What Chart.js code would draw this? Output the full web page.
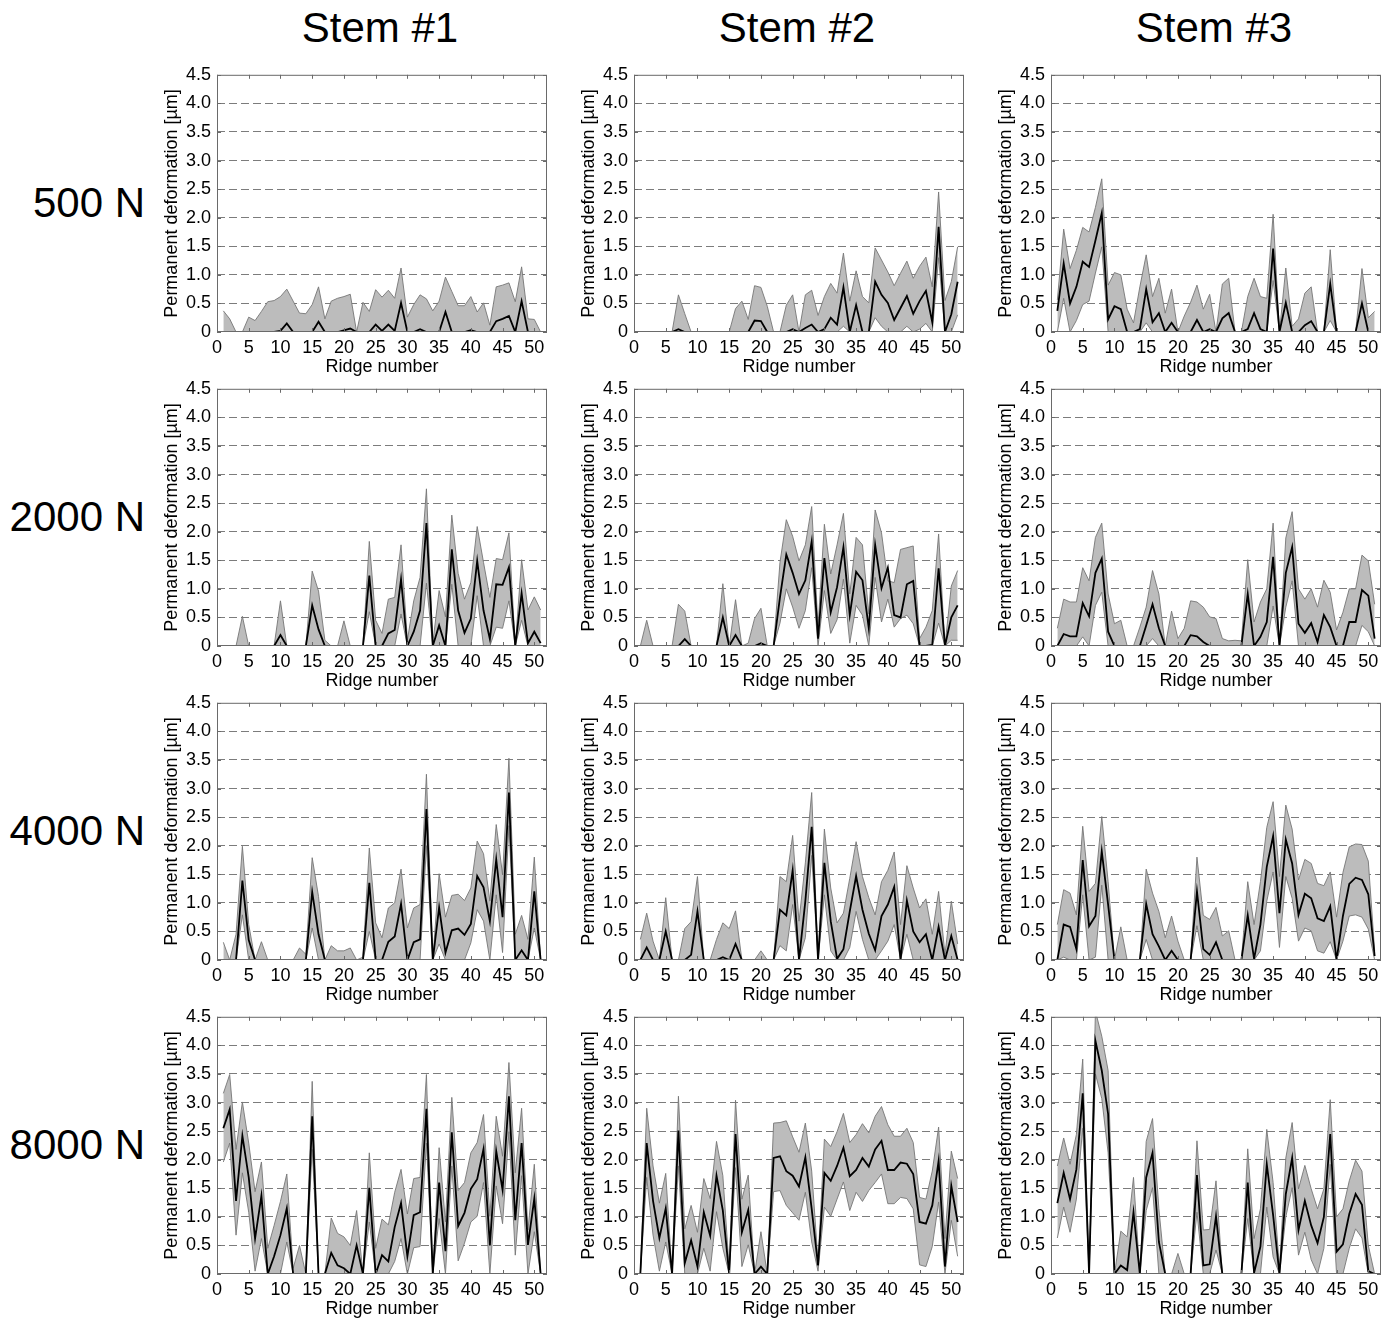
<!DOCTYPE html>
<html><head><meta charset="utf-8">
<script src="https://cdn.jsdelivr.net/npm/chart.js@4.4.1/dist/chart.umd.min.js"></script>
<style>
html,body{margin:0;padding:0;background:#fff;}
#wrap{position:relative;width:1391px;height:1318px;overflow:hidden;font-family:'Liberation Sans',Arial,sans-serif;}
.lbl{position:absolute;font-size:42px;color:#000;white-space:nowrap;line-height:50px;height:50px;}
canvas{position:absolute;}
</style></head><body><div id="wrap"></div>
<script>
// ---------- data ----------
const ridges = [1,2,3,4,5,6,7,8,9,10,11,12,13,14,15,16,17,18,19,20,21,22,23,24,25,26,27,28,29,30,31,32,33,34,35,36,37,38,39,40,41,42,43,44,45,46,47,48,49,50,51];
const xTicks = [0,5,10,15,20,25,30,35,40,45,50];
const yTicks = [0,0.5,1,1.5,2,2.5,3,3.5,4,4.5];
const stems = ['Stem #1','Stem #2','Stem #3'];
const loads = ['500 N','2000 N','4000 N','8000 N'];

// 500 N
const mean500_1  = [0,0,0,0,0,0,0,0,0,0.02, 0.15,0,0,0,0,0.18,0,0,0,0.03, 0.06,0,0,0,0.13,0.02,0.13,0.02,0.51,0, 0,0.05,0,0,0,0.35,0,0,0,0.03, 0,0,0,0.19,0.23,0.28,0,0.54,0,0,0];
const upper500_1 = [0.37,0.23,0,0,0.26,0.20,0.36,0.53,0.55,0.62, 0.75,0.54,0.33,0.32,0.48,0.79,0.23,0.54,0.59,0.62, 0.66,0,0.52,0.36,0.74,0.61,0.73,0.59,1.12,0.26, 0.48,0.65,0.58,0.37,0.54,0.96,0.71,0.46,0.46,0.62, 0.35,0.51,0.12,0.79,0.82,0.86,0.53,1.14,0.23,0.22,0];
const lower500_1 = [0,0,0,0,0,0,0,0,0,0, 0,0,0,0,0,0,0,0,0,0, 0,0,0,0,0,0,0,0,0,0, 0,0,0,0,0,0,0,0,0,0, 0,0,0,0,0,0,0,0,0,0,0];

const mean500_2  = [0,0,0,0,0,0,0.05,0,0,0, 0,0,0,0,0,0,0,0,0.20,0.19, 0,0,0,0,0.05,0,0.07,0.13,0,0.05, 0.25,0.13,0.78,0,0.47,0,0,0.88,0.65,0.51, 0.21,0.42,0.63,0.32,0.54,0.72,0.17,1.84,0,0.31,0.88];
const upper500_2 = [0,0,0,0,0,0,0.65,0.32,0,0, 0,0,0,0,0,0.41,0.54,0.22,0.81,0.78, 0.45,0,0,0.47,0.65,0,0.65,0.73,0.29,0.62, 0.85,0.68,1.38,0.54,1.07,0.62,0.51,1.47,1.26,1.05, 0.81,1.03,1.24,0.94,1.15,1.31,0.79,2.45,0.55,0.88,1.49];
const lower500_2 = [0,0,0,0,0,0,0,0,0,0, 0,0,0,0,0,0,0,0,0,0, 0,0,0,0,0,0,0,0,0,0, 0,0,0.1,0,0,0,0,0.25,0.1,0, 0,0,0.1,0,0.05,0.15,0,1.3,0,0,0.3];

const mean500_3  = [0.37,1.20,0.50,0.79,1.23,1.14,1.60,2.08,0.22,0.45, 0.40,0,0,0.05,0.75,0.17,0.33,0,0.16,0, 0,0,0.21,0,0.05,0,0.24,0.33,0,0, 0.05,0.33,0.05,0,1.46,0,0.51,0,0,0.12, 0.19,0,0,0.84,0,0,0,0,0.50,0,0];
const upper500_3 = [0.56,1.80,1.11,1.43,1.83,1.75,2.18,2.68,0.82,1.04, 1.00,0.40,0.16,0.79,1.35,0.62,0.94,0.33,0.75,0, 0.28,0.52,0.82,0.40,0.66,0,0.84,0.94,0,0, 0.62,0.94,0.62,0.59,2.06,0,1.12,0.10,0.23,0.68, 0.79,0,0,1.44,0,0,0,0,1.11,0.25,0.36];
const lower500_3 = [0,0.59,0,0.2,0.48,0.54,1.03,1.49,0,0, 0,0,0,0,0.16,0,0,0,0,0, 0,0,0,0,0,0,0,0,0,0, 0,0,0,0,0.9,0,0,0,0,0, 0,0,0,0.2,0,0,0,0,0,0,0];

// 2000 N
const mean2000_1  = [0,0,0,0,0,0,0,0,0,0.19, 0,0,0,0,0.71,0.29,0,0,0,0, 0,0,0,1.23,0,0,0.22,0.28,1.17,0, 0.25,0.62,2.15,0,0.36,0,1.69,0.62,0.23,0.48, 1.49,0.62,0.12,1.08,1.07,1.38,0,0.92,0.05,0.25,0.05];
const upper2000_1 = [0,0,0,0.52,0,0,0,0,0,0.79, 0,0,0,0,1.31,0.96,0.10,0,0,0.44, 0,0,0,1.83,0.45,0.22,0.82,0.85,1.77,0.1, 0.79,1.20,2.75,0.05,0.97,0.51,2.29,1.27,0.82,1.11, 2.09,1.46,0.85,1.53,1.51,1.98,0,1.51,0.63,0.86,0.63];
const lower2000_1 = [0,0,0,0,0,0,0,0,0,0, 0,0,0,0,0,0,0,0,0,0, 0,0,0,0.6,0,0,0,0,0.56,0, 0,0,1.1,0,0,0,1.08,0,0,0, 0.88,0,0,0.33,0.31,0.79,0,0.45,0,0,0];

const mean2000_2  = [0,0,0,0,0,0,0,0.12,0,0, 0,0,0,0.50,0,0.19,0,0,0,0.05, 0,0,0.85,1.60,1.28,0.91,1.15,1.83,0.13,1.54, 0.59,1.03,1.73,0.54,1.30,1.15,0.31,1.77,1.01,1.37, 0.54,0.50,1.08,1.14,0,0,0.02,1.36,0,0.50,0.71];
const upper2000_2 = [0,0.45,0,0,0,0,0.73,0.61,0,0, 0,0,0,1.09,0,0.81,0,0.05,0.48,0.66, 0,0,1.46,2.21,1.92,1.49,1.77,2.44,0.33,2.13, 1.26,1.77,2.32,0.91,1.90,1.77,0.56,2.38,1.98,1.14, 1.11,1.69,1.72,1.75,0.13,0.33,0.62,1.96,0,1.05,1.32];
const lower2000_2 = [0,0,0,0,0,0,0,0,0,0, 0,0,0,0,0,0,0,0,0,0, 0,0,0.4,1.00,0.68,0.31,0.62,1.37,0,0.97, 0.22,0.46,1.17,0.05,0.71,0.54,0,1.20,0.42,0.82, 0.33,0.48,0.54,0.39,0,0,0,0.4,0,0.1,0.1];

const mean2000_3  = [0,0.21,0.17,0.17,0.75,0.52,1.28,1.53,0.25,0, 0,0,0,0,0.36,0.73,0.31,0,0,0, 0,0.19,0.17,0.07,0,0,0,0,0,0, 0.91,0,0.16,0.42,1.56,0,1.28,1.73,0.39,0.23, 0.40,0.07,0.54,0.33,0,0,0.42,0.42,0.98,0.88,0.13];
const upper2000_3 = [0.31,0.82,0.77,0.77,1.37,1.14,1.90,2.15,0.91,0.39, 0.45,0,0,0.33,0.68,1.32,0.91,0,0.61,0.13, 0.31,0.79,0.77,0.68,0.51,0.48,0.13,0.09,0.10,0.09, 1.51,0.42,0.77,1.00,2.15,0,1.89,2.35,1.00,0.82, 1.00,0.68,1.15,0.94,0.28,0.59,1.00,1.00,1.59,1.49,0.73];
const lower2000_3 = [0,0,0,0,0.16,0,0.71,0.94,0,0, 0,0,0,0,0,0.13,0,0,0,0, 0,0,0,0,0,0,0,0,0,0, 0,0,0,0,0.7,0,0.68,1.14,0,0, 0,0,0,0,0,0,0,0,0.36,0.25,0];

// 4000 N
const mean4000_1  = [0,0,0,1.39,0.35,0,0,0,0,0, 0,0,0,0,1.19,0.45,0,0,0,0, 0,0,0,1.35,0,0,0.32,0.41,0.98,0, 0.31,0.36,2.64,0,0.92,0.13,0.52,0.55,0.44,0.63, 1.47,1.27,0.68,1.76,0.75,2.93,0,0.17,0,1.20,0];
const upper4000_1 = [0.31,0,0.45,1.99,0.62,0,0.32,0,0,0, 0,0,0.21,0.10,1.79,1.11,0,0.25,0.16,0.16, 0.21,0,0.05,1.96,0.65,0.39,0.91,1.00,1.59,0.56, 0.91,0.97,3.25,0,1.51,0.75,1.13,1.15,1.04,1.26, 2.08,1.86,1.03,2.37,1.49,3.53,0.45,0.78,0.36,1.80,0];
const lower4000_1 = [0,0,0,0.79,0,0,0,0,0,0, 0,0,0,0,0.56,0,0,0,0,0, 0,0,0,0.5,0,0,0,0,0,0, 0,0,2.0,0,0.28,0,0,0,0,0.3, 0.88,0.68,0,1.14,0.13,2.35,0,0,0,0.56,0];

const mean4000_2  = [0,0.22,0,0,0.50,0,0,0,0.09,0.85, 0,0,0,0.05,0,0.28,0,0,0,0, 0,0,0.88,0.78,1.57,0,1.03,2.33,0,1.70, 0.68,0.02,0.19,0.85,1.47,0.88,0.46,0.17,0.77,0.97, 1.28,0,1.04,0.50,0.31,0.45,0,0.58,0,0.42,0];
const upper4000_2 = [0.36,0.82,0.33,0,1.09,0,0,0.55,0.67,1.46, 0,0,0.36,0.65,0.55,0.86,0,0,0,0.16, 0,0,1.46,1.37,2.18,0.68,1.70,2.93,0,2.29, 1.26,0.65,0.82,1.43,2.07,1.46,1.09,0.79,1.37,1.57, 1.89,0.62,1.65,1.26,0.91,1.07,0.45,1.20,0.1,1.03,0.28];
const lower4000_2 = [0,0,0,0,0,0,0,0,0,0, 0,0,0,0,0,0,0,0,0,0, 0,0,0.25,0.16,0.97,0,0.39,1.83,0,1.14, 0.16,0,0,0.22,0.85,0.36,0,0,0.16,0.33, 0.62,0,0.45,0,0,0,0,0,0,0,0];

const mean4000_3  = [0,0.62,0.58,0.19,1.75,0.59,0.77,1.90,0.97,0, 0,0,0,0,0.98,0.45,0.24,0,0.16,0, 0,0,1.20,0.19,0.09,0.31,0,0,0,0, 0.78,0.02,0.62,1.63,2.17,0.82,2.11,1.69,0.79,1.16, 1.08,0.73,0.68,0.94,0,0.77,1.33,1.44,1.40,1.15,0.07];
const upper4000_3 = [0.62,1.23,1.17,0.79,2.34,1.20,1.34,2.51,1.37,0, 0.58,0,0,0,1.59,1.17,0.85,0.39,0.77,0.33, 0,0,1.80,0.78,0.71,0.92,0.42,0.51,0,0, 1.37,0.62,1.37,2.32,2.77,1.46,2.71,2.29,1.40,1.76, 1.69,1.34,1.30,1.54,0.75,1.53,1.98,2.03,2.02,1.73,0.16];
const lower4000_3 = [0,0.05,0,0,1.14,0,0.05,1.31,0,0, 0,0,0,0,0.36,0,0,0,0,0, 0,0,0.6,0,0,0,0,0,0,0, 0,0,0.16,1.03,1.54,0.22,1.46,1.08,0.33,0.56, 0.51,0.16,0.12,0.32,0,0.33,0.77,0.79,0.75,0.54,0];

// 8000 N
const mean8000_1  = [2.55,2.88,1.28,2.42,1.69,0.62,1.37,0,0.31,0.68, 1.15,0,0,0,2.76,0,0,0.37,0.15,0.10, 0,0.50,0,1.51,0,0.33,0.22,0.82,1.24,0.31, 1.03,1.08,2.89,0,1.60,0.40,2.48,0.84,1.07,1.49, 1.66,2.19,0.50,2.15,1.47,3.11,0.94,2.29,0.51,1.32,0];
const upper8000_1 = [3.16,3.49,2.18,3.01,2.29,1.44,1.96,0.45,0.85,1.27, 1.75,0.1,0.50,0,3.37,0,0,0.98,0.71,0.65, 0.50,1.11,0,2.12,0.45,0.96,0.86,1.43,1.83,1.05, 1.67,1.69,3.49,0,2.21,0.91,3.09,1.46,1.60,2.12, 2.30,2.79,1.01,2.76,2.06,3.70,1.77,2.90,0.77,1.92,0];
const lower8000_1 = [1.96,2.29,0.68,1.77,1.08,0.05,0.62,0,0,0, 0.56,0,0,0,2.18,0,0,0,0,0, 0,0,0,0.91,0,0,0,0.22,0.62,0, 0.46,0.48,2.29,0,0.97,0,1.89,0.23,0.54,0.91, 1.01,1.60,0,1.54,0.88,2.49,0.33,1.72,0,0.74,0];

const mean8000_2  = [0,2.29,1.28,0.63,1.15,0,2.51,0.19,0.59,0.13, 1.08,0.67,1.72,1.11,0,2.45,0.73,1.12,0,0.13, 0,2.03,2.06,1.80,1.72,1.53,2.04,1.14,0.15,1.77, 1.63,1.89,2.21,1.71,1.82,2.03,1.88,2.18,2.33,1.82, 1.82,1.95,1.93,1.75,0.91,0.88,1.20,1.98,0.13,1.54,0.91];
const upper8000_2 = [0,2.90,1.89,1.24,1.76,0,3.11,0.79,1.20,0.73, 1.67,1.32,2.32,1.72,0.1,3.04,1.31,1.73,0,0.74, 0,2.64,2.65,2.68,2.40,2.13,2.64,1.80,0.22,2.36, 2.23,2.49,2.81,2.30,2.44,2.63,2.47,2.76,2.93,2.61, 2.41,2.41,2.55,2.30,1.34,1.31,1.80,2.57,0.62,2.15,1.67];
const lower8000_2 = [0,1.69,0.68,0.05,0.56,0,1.89,0,0,0, 0.45,0.05,1.09,0.45,0,1.86,0.13,0.51,0,0, 0,1.44,1.46,1.20,1.07,0.94,1.43,0.56,0.05,1.17, 1.01,1.31,1.61,1.11,1.43,1.27,1.46,1.60,1.75,1.23, 1.23,1.34,1.32,1.14,0.16,0.13,0.48,1.26,0,0.94,0.31];

const mean8000_3  = [1.24,1.77,1.31,1.83,3.16,0,4.08,3.56,2.80,0, 0.15,0.07,1.08,0,1.69,2.12,0.56,0,0,0, 0,0,1.73,0.15,0.17,1.01,0,0,0,0, 1.60,0.02,0.48,1.92,1.03,0,1.40,2.03,0.77,1.28, 0.85,0.54,1.00,2.45,0.39,0.52,1.05,1.40,1.21,0.05,0];
const upper8000_3 = [1.89,2.38,1.92,2.44,3.76,0,4.6,4.16,3.56,0, 0.75,0.65,1.69,0,2.32,2.72,1.14,0,0,0.36, 0,0,2.33,0.77,0.78,1.63,0,0,0,0, 2.19,0.62,1.14,2.53,1.60,0.1,2.03,2.65,1.49,1.90, 1.49,1.14,1.49,3.05,1.00,1.14,1.63,1.99,1.80,0.5,0];
const lower8000_3 = [0.63,1.17,0.73,1.31,2.55,0,3.50,3.07,2.12,0, 0,0,0,0,1.11,1.51,0,0,0,0, 0,0,1.08,0,0,0.42,0,0,0,0, 0.97,0,0,1.17,0.3,0,1.0,1.51,0.33,0.73, 0.25,0,0.45,1.92,0,0,0.45,0.79,0.63,0,0];

const panels = [
  [[mean500_1,upper500_1,lower500_1],[mean500_2,upper500_2,lower500_2],[mean500_3,upper500_3,lower500_3]],
  [[mean2000_1,upper2000_1,lower2000_1],[mean2000_2,upper2000_2,lower2000_2],[mean2000_3,upper2000_3,lower2000_3]],
  [[mean4000_1,upper4000_1,lower4000_1],[mean4000_2,upper4000_2,lower4000_2],[mean4000_3,upper4000_3,lower4000_3]],
  [[mean8000_1,upper8000_1,lower8000_1],[mean8000_2,upper8000_2,lower8000_2],[mean8000_3,upper8000_3,lower8000_3]]
];

// ---------- layout ----------
Chart.defaults.font.family = "'Liberation Sans', Arial, sans-serif";
Chart.defaults.color = '#000';
const PL = [217, 634, 1051], PT = [72, 386, 700, 1014];
const PW = 330, PH = 260, YW = 56, TOPPAD = 14, RPAD = 10, XH = 46;
const wrap = document.getElementById('wrap');

stems.forEach((s, c) => {
  const d = document.createElement('div');
  d.className = 'lbl'; d.textContent = s;
  d.style.left = (PL[c] + PW / 2 - 152) + 'px'; d.style.width = '300px'; d.style.textAlign = 'center';
  d.style.top = (28 - 25) + 'px';
  wrap.appendChild(d);
});
loads.forEach((l, r) => {
  const d = document.createElement('div');
  d.className = 'lbl'; d.textContent = l;
  d.style.left = '0px'; d.style.width = '145px'; d.style.textAlign = 'right';
  d.style.top = (PT[r] + PH / 2 + 1 - 25) + 'px';
  wrap.appendChild(d);
});

const framePlugin = {
  id: 'frame',
  afterDatasetsDraw(chart) {
    const {ctx, chartArea: a, scales: {x, y}} = chart;
    ctx.save();
    ctx.strokeStyle = '#6a6a6a';
    ctx.lineWidth = 1;
    ctx.setLineDash([]);
    ctx.strokeRect(a.left + 0.5, a.top + 0.5, a.right - a.left - 1, a.bottom - a.top - 1);
    ctx.beginPath();
    const tl = 4;
    xTicks.forEach(v => {
      const px = Math.round(x.getPixelForValue(v)) + 0.5;
      ctx.moveTo(px, a.bottom); ctx.lineTo(px, a.bottom - tl);
      ctx.moveTo(px, a.top); ctx.lineTo(px, a.top + tl);
    });
    yTicks.forEach(v => {
      const py = Math.round(y.getPixelForValue(v)) + 0.5;
      ctx.moveTo(a.left, py); ctx.lineTo(a.left + tl, py);
      ctx.moveTo(a.right, py); ctx.lineTo(a.right - tl, py);
    });
    ctx.stroke();
    ctx.restore();
  }
};

function xy(arr) { return ridges.map((r, i) => ({x: r, y: arr[i]})); }

panels.forEach((rowPanels, r) => {
  rowPanels.forEach((p, c) => {
    const cv = document.createElement('canvas');
    const W = YW + PW + RPAD, H = TOPPAD + PH + XH;
    cv.width = W; cv.height = H;
    cv.style.left = (PL[c] - YW) + 'px'; cv.style.top = (PT[r] - TOPPAD) + 'px';
    cv.style.width = W + 'px'; cv.style.height = H + 'px';
    wrap.appendChild(cv);
    new Chart(cv, {
      type: 'line',
      data: {datasets: [
        {label: 'Mean', data: xy(p[0]), borderColor: '#000', borderWidth: 1.8, pointRadius: 0, tension: 0, fill: false, clip: 0},
        {label: 'Upper', data: xy(p[1]), borderColor: '#767676', borderWidth: 0.9, backgroundColor: '#bcbcbc', pointRadius: 0, tension: 0, fill: '+1', clip: 0},
        {label: 'Lower', data: xy(p[2]), borderColor: '#767676', borderWidth: 0.9, pointRadius: 0, tension: 0, fill: false, clip: 0}
      ]},
      options: {
        responsive: false, animation: false, devicePixelRatio: 1,
        layout: {padding: {top: TOPPAD, right: RPAD, left: 0, bottom: 0}},
        plugins: {legend: {display: false}, tooltip: {enabled: false}, filler: {drawTime: 'beforeDatasetsDraw'}},
        scales: {
          x: {
            type: 'linear', min: 0, max: 52,
            afterFit: s => { s.height = XH; },
            afterBuildTicks: s => { s.ticks = xTicks.map(v => ({value: v})); },
            grid: {display: false, drawTicks: false},
            border: {display: false},
            ticks: {padding: 5, font: {size: 18}, color: '#000', maxRotation: 0, autoSkip: false},
            title: {display: true, text: 'Ridge number', font: {size: 18}, color: '#000', padding: 0}
          },
          y: {
            type: 'linear', min: 0, max: 4.5,
            afterFit: s => { s.width = YW; },
            afterBuildTicks: s => { s.ticks = yTicks.map(v => ({value: v})); },
            grid: {drawTicks: false, lineWidth: 1,
              color: ctx => (ctx.tick && (ctx.tick.value === 0 || ctx.tick.value === 4.5)) ? 'rgba(0,0,0,0)' : '#7c7c7c'},
            border: {display: false, dash: [8, 4]},
            ticks: {padding: 6, font: {size: 18}, color: '#000', autoSkip: false,
              callback: v => v === 0 ? '0' : Number(v).toFixed(1)},
            title: {display: true, text: 'Permanent deformation [µm]', font: {size: 18}, color: '#000', padding: 0}
          }
        }
      },
      plugins: [framePlugin]
    });
  });
});
</script></body></html>
